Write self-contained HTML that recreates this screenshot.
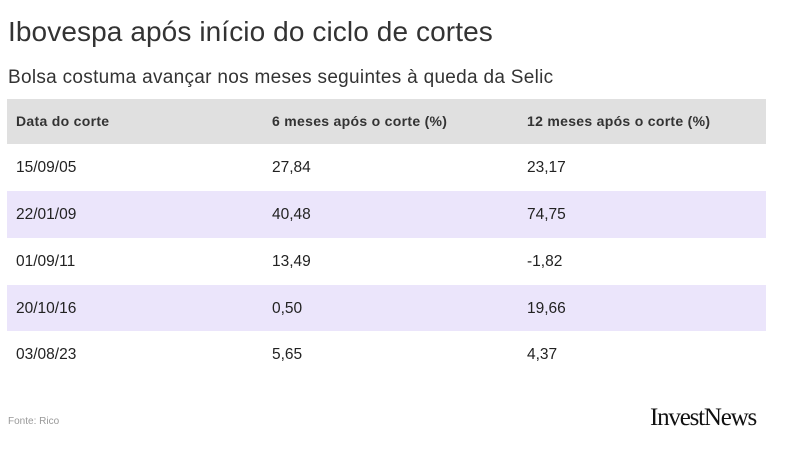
<!DOCTYPE html>
<html><head><style>
body{margin:0;width:794px;height:459px;background:#fff;font-family:"Liberation Sans",sans-serif;color:#222;position:relative;overflow:hidden}
.t{position:absolute;left:8px;top:16px;font-size:28px;color:#333;letter-spacing:0.1px}
.s{position:absolute;left:8px;top:67px;font-size:19px;color:#333;letter-spacing:0.3px}
.row{position:absolute;left:7px;width:759px;height:47px}
.row span{position:absolute;top:15px;font-size:15.5px;color:#222}
.h span{font-weight:bold;font-size:14px;top:14px;color:#333;letter-spacing:0.3px}
.c1{left:9px}.c2{left:265px}.c3{left:520px}
.p{background:#ebe5fb}
.f{position:absolute;left:8px;top:416px;font-size:10px;color:#999}
.l{position:absolute;left:650px;top:404px;font-family:"Liberation Serif",serif;font-size:25px;letter-spacing:-1.2px;color:#111}
</style></head><body>
<div class="t">Ibovespa após início do ciclo de cortes</div>
<div class="s">Bolsa costuma avançar nos meses seguintes à queda da Selic</div>
<div class="row h" style="top:99px;height:45px;background:#e0e0e0"><span class="c1">Data do corte</span><span class="c2">6 meses após o corte (%)</span><span class="c3">12 meses após o corte (%)</span></div>
<div class="row" style="top:144px"><span class="c1">15/09/05</span><span class="c2">27,84</span><span class="c3">23,17</span></div>
<div class="row p" style="top:191px"><span class="c1">22/01/09</span><span class="c2">40,48</span><span class="c3">74,75</span></div>
<div class="row" style="top:238px"><span class="c1">01/09/11</span><span class="c2">13,49</span><span class="c3">-1,82</span></div>
<div class="row p" style="top:285px;height:46px"><span class="c1">20/10/16</span><span class="c2">0,50</span><span class="c3">19,66</span></div>
<div class="row" style="top:331px"><span class="c1">03/08/23</span><span class="c2">5,65</span><span class="c3">4,37</span></div>
<div class="f">Fonte: Rico</div>
<div class="l">InvestNews</div>
</body></html>
